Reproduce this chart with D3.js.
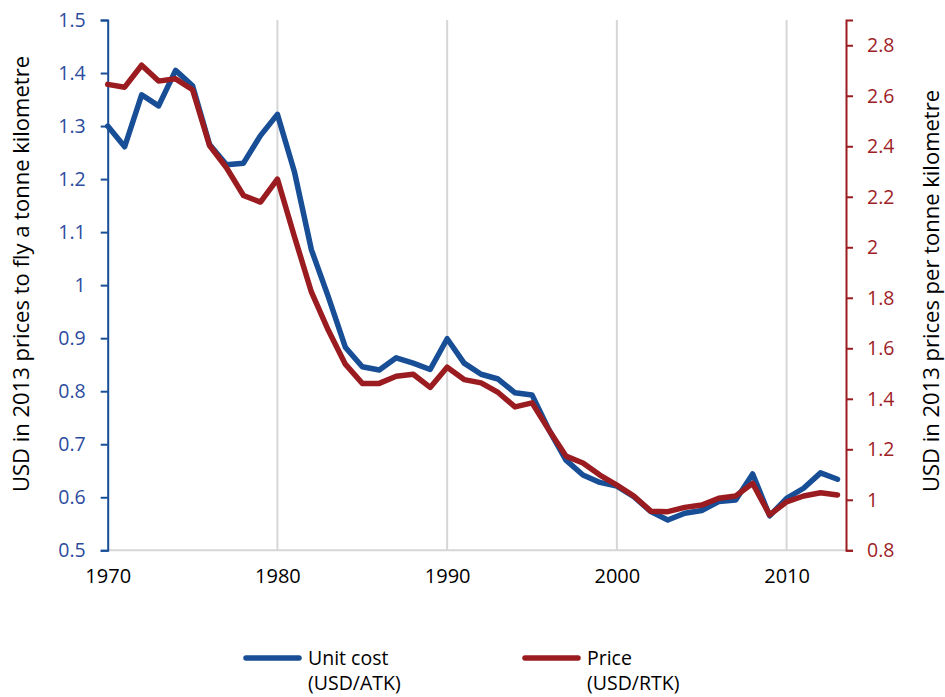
<!DOCTYPE html>
<html>
<head>
<meta charset="utf-8">
<script src="https://cdn.jsdelivr.net/npm/d3@7"></script>
<style>
  html, body { margin: 0; padding: 0; background: #fff; }
  svg { display: block; font-family: "Open Sans", "Noto Sans", sans-serif; }
</style>
</head>
<body>
<svg id="chart" width="945" height="697"></svg>
<script>
// Years covered by both series
const years = d3.range(1970, 2014);

// Unit cost, USD (2013 prices) per available tonne kilometre — left axis
const unitCost = [
  1.300, 1.261, 1.359, 1.338, 1.405, 1.376, 1.265, 1.227, 1.230, 1.282,
  1.322, 1.214, 1.067, 0.978, 0.883, 0.846, 0.840, 0.863, 0.853, 0.841,
  0.899, 0.853, 0.832, 0.823, 0.797, 0.793, 0.727, 0.670, 0.642, 0.628,
  0.621, 0.601, 0.573, 0.557, 0.570, 0.575, 0.592, 0.595, 0.644, 0.565,
  0.598, 0.617, 0.646, 0.634
];

// Price, USD (2013 prices) per revenue tonne kilometre — right axis
const price = [
  2.645, 2.634, 2.721, 2.658, 2.667, 2.624, 2.403, 2.315, 2.205, 2.179,
  2.270, 2.043, 1.823, 1.671, 1.537, 1.461, 1.461, 1.489, 1.497, 1.445,
  1.525, 1.476, 1.463, 1.425, 1.368, 1.384, 1.276, 1.173, 1.146, 1.098,
  1.058, 1.015, 0.955, 0.953, 0.970, 0.979, 1.006, 1.015, 1.065, 0.940,
  0.992, 1.015, 1.028, 1.019
];

const xTicks = [1970, 1980, 1990, 2000, 2010];
const gridYears = [1980, 1990, 2000, 2010];
const leftTicks = [0.5, 0.6, 0.7, 0.8, 0.9, 1.0, 1.1, 1.2, 1.3, 1.4, 1.5];
const rightTicks = [0.8, 1.0, 1.2, 1.4, 1.6, 1.8, 2.0, 2.2, 2.4, 2.6, 2.8];

const seriesNames = ["Unit cost", "Price"];
const seriesUnits = ["(USD/ATK)", "(USD/RTK)"];
const leftTitle = "USD in 2013 prices to fly a tonne kilometre";
const rightTitle = "USD in 2013 prices per tonne kilometre";

const BLUE = "#174e96";
const RED = "#9b1c20";
const BLUE_TEXT = "#2c4c9e";
const RED_TEXT = "#9e2126";
const GRID = "#d6d6d6";

const svg = d3.select("#chart");
const plotLeft = 107.7, plotRight = 846, plotTop = 20, plotBottom = 550.3;

const x = d3.scaleLinear().domain([1970, 2013.5]).range([plotLeft, plotRight]);
const yL = d3.scaleLinear().domain([0.5, 1.5]).range([plotBottom, plotTop]);
const yR = d3.scaleLinear().domain([0.8, 2.9]).range([plotBottom, plotTop]);

// Vertical gridlines at the decades
svg.append("g")
  .selectAll("line")
  .data(gridYears)
  .join("line")
  .attr("x1", d => x(d)).attr("x2", d => x(d))
  .attr("y1", plotTop).attr("y2", plotBottom)
  .attr("stroke", GRID).attr("stroke-width", 2);

// Bottom axis: grey baseline and year labels
const xAxis = svg.append("g")
  .attr("transform", `translate(0,${plotBottom})`)
  .call(d3.axisBottom(x).tickValues(xTicks).tickFormat(d3.format("d")).tickSize(0).tickPadding(19));
xAxis.select(".domain").attr("stroke", GRID).attr("stroke-width", 2)
  .attr("d", `M${plotLeft},0H${plotRight}`);
xAxis.selectAll("text").attr("font-size", 20).attr("fill", "#000")
  .attr("font-family", "Open Sans");

// Left axis
const fmtL = d => (d === 1 ? "1" : d3.format(".1f")(d));
const yAxisL = svg.append("g")
  .attr("transform", `translate(${plotLeft},0)`)
  .call(d3.axisLeft(yL).tickValues(leftTicks).tickFormat(fmtL).tickSizeOuter(0).tickSize(7).tickPadding(15));
yAxisL.select(".domain").attr("stroke", BLUE).attr("stroke-width", 2);
yAxisL.selectAll(".tick line").attr("stroke", BLUE).attr("stroke-width", 2);
yAxisL.selectAll("text").attr("font-size", 19.5).attr("fill", BLUE_TEXT)
  .attr("font-family", "Open Sans");

// Right axis
const fmtR = d => (Math.abs(d - Math.round(d)) < 1e-9 ? d3.format("d")(d) : d3.format(".1f")(d));
const yAxisR = svg.append("g")
  .attr("transform", `translate(${plotRight},0)`)
  .call(d3.axisRight(yR).tickValues(rightTicks).tickFormat(fmtR).tickSizeOuter(0).tickSize(7).tickPadding(14));
yAxisR.select(".domain").attr("stroke", RED).attr("stroke-width", 2);
yAxisR.selectAll(".tick line").attr("stroke", RED).attr("stroke-width", 2);
yAxisR.selectAll("text").attr("font-size", 19.5).attr("fill", RED_TEXT)
  .attr("font-family", "Open Sans");

// Axis titles
svg.append("text")
  .attr("transform", "translate(29,274) rotate(-90)")
  .attr("text-anchor", "middle")
  .attr("font-size", 22).attr("fill", "#000")
  .text(leftTitle);
svg.append("text")
  .attr("transform", "translate(939,291) rotate(-90)")
  .attr("text-anchor", "middle")
  .attr("font-size", 22).attr("fill", "#000")
  .text(rightTitle);

// Series lines
const lineL = d3.line().x((d, i) => x(years[i])).y(d => yL(d));
const lineR = d3.line().x((d, i) => x(years[i])).y(d => yR(d));

svg.append("path").datum(unitCost)
  .attr("d", lineL).attr("fill", "none")
  .attr("stroke", BLUE).attr("stroke-width", 5.5)
  .attr("stroke-linejoin", "round").attr("stroke-linecap", "round");
svg.append("path").datum(price)
  .attr("d", lineR).attr("fill", "none")
  .attr("stroke", RED).attr("stroke-width", 5.5)
  .attr("stroke-linejoin", "round").attr("stroke-linecap", "round");

// Legend
const legend = svg.append("g");
const legendItems = [
  { name: seriesNames[0], unit: seriesUnits[0], color: BLUE, x0: 246 },
  { name: seriesNames[1], unit: seriesUnits[1], color: RED, x0: 525 }
];
legendItems.forEach(it => {
  legend.append("line")
    .attr("x1", it.x0).attr("x2", it.x0 + 53)
    .attr("y1", 658).attr("y2", 658)
    .attr("stroke", it.color).attr("stroke-width", 5.5)
    .attr("stroke-linecap", "round");
  const t = legend.append("text")
    .attr("font-size", 19.5).attr("fill", "#000");
  t.append("tspan").attr("x", it.x0 + 62).attr("y", 665).text(it.name);
  t.append("tspan").attr("x", it.x0 + 62).attr("y", 690).text(it.unit);
});
</script>
</body>
</html>
